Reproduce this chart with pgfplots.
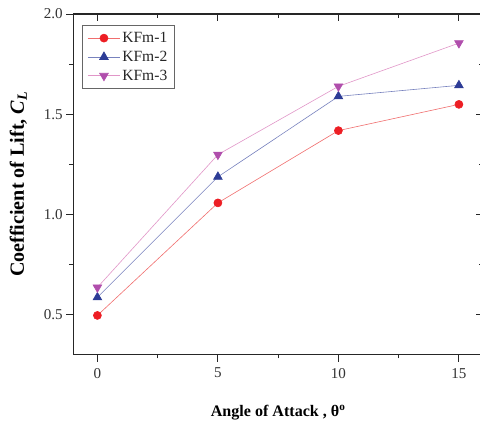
\documentclass[border=0pt]{standalone}
\usepackage{fontspec}
\setmainfont{Liberation Serif}
\usepackage{pgfplots}
\pgfplotsset{compat=1.18}

\definecolor{kfa}{RGB}{237,30,36}
\definecolor{kfb}{RGB}{45,60,150}
\definecolor{kfc}{RGB}{176,78,172}
\definecolor{kfaline}{RGB}{240,110,110}
\definecolor{kfbline}{RGB}{120,130,190}
\definecolor{kfcline}{RGB}{225,150,200}

\begin{document}
\begin{tikzpicture}
% frame with the mirrored inside ticks (top, right)
\begin{axis}[
    scale only axis, width=408pt, height=339pt,
    xmin=-1, xmax=16, ymin=0.3, ymax=2.0,
    xtick={0,5,10,15}, ytick={0.5,1.0,1.5,2.0},
    minor xtick={2.5,7.5,12.5}, minor ytick={0.75,1.25,1.75},
    xtick pos=right, ytick pos=right, tick align=inside,
    xticklabels={}, yticklabels={},
    major tick length=7pt, minor tick length=4pt,
    tick style={black!85, line width=0.9pt},
    axis line style={black!85, line width=1.3pt},
]
\end{axis}
\begin{axis}[
    scale only axis, width=408pt, height=339pt,
    xmin=-1, xmax=16, ymin=0.3, ymax=2.0,
    xtick={0,5,10,15}, ytick={0.5,1.0,1.5,2.0},
    minor xtick={2.5,7.5,12.5}, minor ytick={0.75,1.25,1.75},
    xtick pos=left, ytick pos=left, tick align=outside,
    major tick length=7pt, minor tick length=4pt,
    tick style={black!85, line width=0.9pt},
    axis line style={draw=none},
    /pgf/number format/assume math mode=true,
    yticklabel style={/pgf/number format/.cd, fixed, fixed zerofill, precision=1},
    ticklabel style={font=\fontsize{15}{15}\selectfont, text=black!80},
    xticklabel style={yshift=-3pt},
    xlabel={\textbf{Angle of Attack , θ\textsuperscript{o}}},
    ylabel={\textbf{Coefficient of Lift, \textit{C\textsubscript{L}}}},
    xlabel style={font=\fontsize{16}{16}\selectfont, yshift=-20pt},
    ylabel style={font=\fontsize{20}{20}\selectfont, yshift=10pt},
    legend style={
        at={(0.022,0.968)}, anchor=north west,
        draw=black!60, line width=0.5pt,
        font=\fontsize{15.5}{15.5}\selectfont,
        row sep=3pt, inner xsep=5pt, inner ysep=5pt,
        text=black!85,
    },
    legend cell align=left,
    legend image code/.code={
        \draw[mark repeat=2, mark phase=2, #1]
            plot coordinates {(0pt,0pt) (16pt,0pt) (32pt,0pt)};
    },
]
\addplot[kfaline, line width=0.6pt, mark=*, mark size=4pt,
    mark options={kfa, fill=kfa}] coordinates {
    (0,0.495) (5,1.057) (10,1.418) (15,1.549)
};
\addlegendentry{KFm-1}
\addplot[kfbline, line width=0.6pt, mark=triangle*, mark size=5pt,
    mark options={kfb, fill=kfb}] coordinates {
    (0,0.585) (5,1.187) (10,1.589) (15,1.644)
};
\addlegendentry{KFm-2}
\addplot[kfcline, line width=0.6pt, mark=triangle*, mark size=5pt,
    mark options={kfc, fill=kfc, rotate=180}] coordinates {
    (0,0.635) (5,1.298) (10,1.639) (15,1.855)
};
\addlegendentry{KFm-3}
\end{axis}
\pgfresetboundingbox
\path[use as bounding box]
    ([xshift=-73pt, yshift=-70pt]current axis.south west)
    rectangle ([xshift=-3pt, yshift=14pt]current axis.north east);
\end{tikzpicture}
\end{document}
